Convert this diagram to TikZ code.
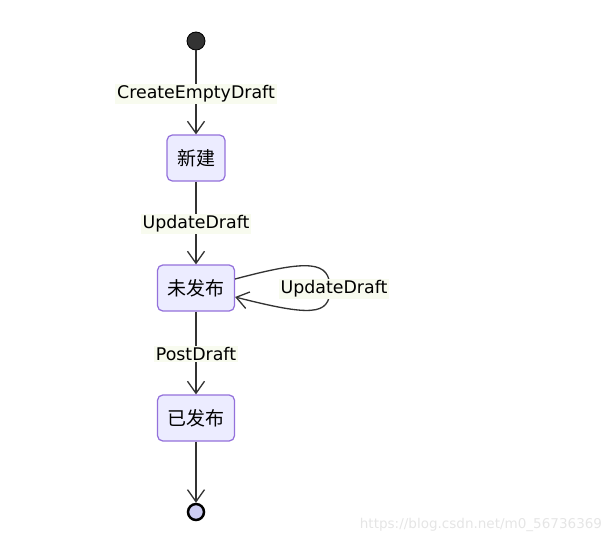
\documentclass[tikz,border=0pt]{standalone}
\usepackage{fontspec}
\setsansfont{DejaVu Sans}
\newfontfamily\cjk{Noto Sans CJK SC}
\usetikzlibrary{arrows.meta}
\definecolor{statefill}{HTML}{ECECFF}
\definecolor{stateborder}{HTML}{9370DB}
\definecolor{linegray}{HTML}{333333}
\definecolor{labelbg}{HTML}{F8FBEF}
\definecolor{endfill}{HTML}{CDCDF3}
\tikzset{
  statebox/.style={draw=stateborder, fill=statefill, rounded corners=3pt, line width=0.7pt,
    minimum height=0.92cm, inner xsep=0.2cm, font=\cjk\fontsize{10.8}{12}\selectfont},
  startdot/.style={circle, fill=linegray, draw=black, line width=0.5pt, minimum size=0.36cm, inner sep=0pt},
  enddot/.style={circle, fill=endfill, draw=black, line width=1.4pt, minimum size=0.32cm, inner sep=0pt},
  edgelabel/.style={fill=labelbg, inner sep=1pt, font=\sffamily\fontsize{9.9}{12}\selectfont},
  flow/.style={draw=linegray, line width=0.75pt, -{Straight Barb[length=2.4mm, width=3.4mm]}},
  watermark/.style={text=black!10, font=\sffamily\fontsize{7.7}{9}\selectfont},
}
\begin{document}
\begin{tikzpicture}
\useasboundingbox (0,0) rectangle (12.2,-10.88);
% states
\node[startdot] (start) at (3.92,-0.82) {};
\node[statebox] (new) at (3.92,-3.16) {新建};
\node[statebox] (unpub) at (3.92,-5.76) {未发布};
\node[statebox] (pub) at (3.92,-8.36) {已发布};
\node[enddot] (end) at (3.92,-10.24) {};
% transitions
\draw[flow] (start) -- (new);
\draw[flow] (new) -- (unpub);
\draw[flow] (unpub) -- (pub);
\draw[flow] (pub) -- (end);
\draw[flow] (unpub.east |- 3.92,-5.58) .. controls (6.2,-5.18) and (6.6,-5.22) .. (6.6,-5.78)
  .. controls (6.6,-6.32) and (6.2,-6.32) .. (unpub.east |- 3.92,-5.94);
% labels
\node[edgelabel] (l1) at (3.92,-1.88) {CreateEmptyDraft};
\node[edgelabel] (l2) at (3.92,-4.48) {UpdateDraft};
\node[edgelabel] (l3) at (3.92,-7.08) {PostDraft};
\node[edgelabel] (l4) at (6.68,-5.78) {UpdateDraft};
\node[watermark] (mark) at (9.62,-10.5) {https://blog.csdn.net/m0\_56736369};
\end{tikzpicture}
\end{document}
